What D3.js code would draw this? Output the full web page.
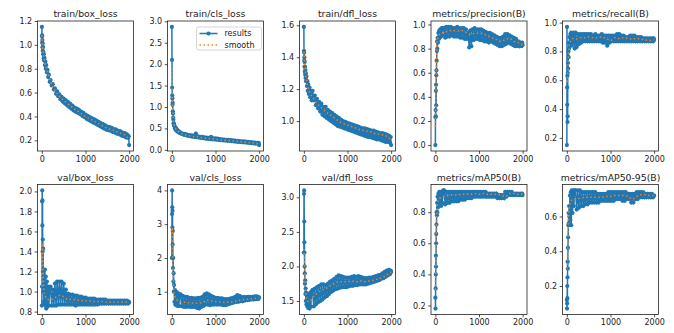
<!DOCTYPE html>
<html>
<head>
<meta charset="utf-8">
<script src="https://cdn.jsdelivr.net/npm/d3@7"></script>
<style>
  body { margin: 0; background: #fff; }
  svg { display: block; font-family: "DejaVu Sans", sans-serif; }
</style>
</head>
<body>
<svg id="chart" width="674" height="333"></svg>
<script>
const epochs = [0, 3, 6, 9, 12, 15, 18, 21, 25, 30, 35, 40, 45, 50, 60, 70, 80, 90, 100, 115, 130, 145, 160, 180,
  200, 225, 250, 275, 300, 325, 350, 375, 400, 425, 450, 475, 500, 525, 550, 575, 600, 625, 650, 675,
  700, 725, 750, 775, 800, 825, 850, 875, 900, 925, 950, 975, 1000, 1025, 1050, 1075, 1100, 1125, 1150, 1175,
  1200, 1225, 1250, 1275, 1300, 1325, 1350, 1375, 1400, 1425, 1450, 1475, 1500, 1525, 1550, 1575, 1600, 1625,
  1650, 1675, 1700, 1725, 1750, 1775, 1800, 1825, 1850, 1875, 1900, 1925, 1950, 1975, 1990, 2000]
// epochs for the smoothed (orange) curve
const smoothEpochs = [0, 10, 20, 30, 40, 50, 70, 100, 150, 200, 300, 400, 500, 600, 700, 800, 900, 1000,
  1100, 1200, 1300, 1400, 1500, 1600, 1700, 1800, 1900, 2000]

const titles = ["train/box_loss", "train/cls_loss", "train/dfl_loss", "metrics/precision(B)", "metrics/recall(B)",
  "val/box_loss", "val/cls_loss", "val/dfl_loss", "metrics/mAP50(B)", "metrics/mAP50-95(B)"]

const trainBox = [1.15, 1.07, 1.08, 1.02, 1.04, 0.98, 1.01, 0.95, 0.98, 0.92, 0.94, 0.89, 0.92, 0.87, 0.89, 0.83, 0.86, 0.80, 0.83, 0.77, 0.79, 0.73, 0.75, 0.69,
  0.705, 0.66, 0.67, 0.625, 0.635, 0.59, 0.61, 0.57, 0.585, 0.545, 0.565, 0.525, 0.55, 0.51, 0.535, 0.495, 0.52, 0.48, 0.505, 0.465,
  0.49, 0.45, 0.475, 0.44, 0.465, 0.43, 0.455, 0.42, 0.44, 0.405, 0.43, 0.395, 0.415, 0.38, 0.405, 0.37, 0.395, 0.36, 0.385, 0.35,
  0.375, 0.34, 0.365, 0.33, 0.355, 0.32, 0.345, 0.31, 0.335, 0.30, 0.325, 0.29, 0.315, 0.285, 0.31, 0.28, 0.305, 0.27,
  0.295, 0.265, 0.29, 0.255, 0.28, 0.25, 0.275, 0.24, 0.265, 0.235, 0.26, 0.225, 0.25, 0.22, 0.235, 0.16]
const trainBoxSmooth = [1.08, 1.03, 0.98, 0.94, 0.91, 0.89, 0.85, 0.81, 0.75, 0.69, 0.62, 0.57, 0.535, 0.505, 0.475, 0.45, 0.425, 0.40,
  0.38, 0.36, 0.34, 0.32, 0.30, 0.29, 0.275, 0.26, 0.245, 0.21]

const trainCls = [2.87, 2.10, 1.45, 1.27, 1.20, 1.05, 1.10, 0.90, 0.85, 0.75, 0.70, 0.62, 0.62, 0.56, 0.56, 0.50, 0.52, 0.46, 0.50, 0.44, 0.46, 0.41, 0.43, 0.39,
  0.40, 0.37, 0.38, 0.35, 0.37, 0.34, 0.355, 0.325, 0.345, 0.315, 0.335, 0.305, 0.33, 0.30, 0.38, 0.295, 0.315, 0.285, 0.305, 0.275,
  0.30, 0.27, 0.29, 0.26, 0.285, 0.255, 0.28, 0.25, 0.30, 0.245, 0.27, 0.24, 0.265, 0.235, 0.26, 0.23, 0.25, 0.225, 0.245, 0.22,
  0.24, 0.215, 0.235, 0.21, 0.23, 0.205, 0.225, 0.20, 0.22, 0.195, 0.215, 0.19, 0.21, 0.185, 0.205, 0.18, 0.20, 0.175,
  0.195, 0.17, 0.19, 0.165, 0.185, 0.16, 0.18, 0.155, 0.175, 0.15, 0.17, 0.145, 0.165, 0.14, 0.16, 0.11]
const trainClsSmooth = [1.9, 1.15, 0.95, 0.75, 0.64, 0.58, 0.52, 0.48, 0.43, 0.39, 0.35, 0.325, 0.31, 0.30, 0.28, 0.265, 0.26, 0.245,
  0.235, 0.225, 0.215, 0.205, 0.195, 0.185, 0.175, 0.165, 0.155, 0.13]

const trainDfl = [1.59, 1.44, 1.43, 1.38, 1.40, 1.34, 1.37, 1.31, 1.34, 1.29, 1.32, 1.27, 1.30, 1.25, 1.28, 1.22, 1.25, 1.19, 1.23, 1.17, 1.21, 1.15, 1.19, 1.13,
  1.19, 1.13, 1.16, 1.10, 1.14, 1.08, 1.12, 1.06, 1.11, 1.04, 1.09, 1.03, 1.09, 1.02, 1.07, 1.01, 1.06, 1.00, 1.05, 0.99,
  1.04, 0.98, 1.03, 0.97, 1.02, 0.965, 1.01, 0.96, 1.00, 0.955, 0.995, 0.95, 0.99, 0.945, 0.985, 0.94, 0.98, 0.935, 0.975, 0.93,
  0.97, 0.925, 0.965, 0.92, 0.96, 0.915, 0.955, 0.91, 0.955, 0.905, 0.95, 0.90, 0.945, 0.90, 0.94, 0.895, 0.94, 0.89,
  0.935, 0.885, 0.93, 0.885, 0.925, 0.88, 0.925, 0.875, 0.92, 0.87, 0.915, 0.87, 0.91, 0.865, 0.90, 0.85]
const trainDflSmooth = [1.46, 1.39, 1.35, 1.32, 1.30, 1.28, 1.245, 1.21, 1.17, 1.15, 1.11, 1.085, 1.06, 1.04, 1.02, 1.00, 0.985, 0.975,
  0.965, 0.955, 0.945, 0.94, 0.935, 0.925, 0.92, 0.915, 0.905, 0.88]

const precision = [0.00, 0.23, 0.29, 0.24, 0.45, 0.50, 0.33, 0.58, 0.62, 0.70, 0.78, 0.86, 0.80, 0.89, 0.85, 0.93, 0.88, 0.95, 0.89, 0.96, 0.90, 0.97, 0.91, 0.97,
  0.97, 0.89, 0.98, 0.90, 0.98, 0.90, 0.98, 0.91, 0.97, 0.90, 0.97, 0.90, 0.98, 0.90, 0.97, 0.89, 0.97, 0.89, 0.97, 0.88,
  0.96, 0.88, 0.93, 0.81, 0.95, 0.82, 0.96, 0.87, 0.97, 0.88, 0.96, 0.88, 0.96, 0.87, 0.96, 0.87, 0.95, 0.86, 0.94, 0.86,
  0.93, 0.85, 0.93, 0.86, 0.92, 0.85, 0.91, 0.84, 0.90, 0.83, 0.89, 0.82, 0.89, 0.82, 0.90, 0.83, 0.92, 0.84,
  0.92, 0.85, 0.91, 0.84, 0.90, 0.83, 0.89, 0.82, 0.88, 0.82, 0.86, 0.82, 0.85, 0.82, 0.85, 0.83]
const precisionSmooth = [0.15, 0.40, 0.62, 0.80, 0.86, 0.88, 0.90, 0.92, 0.93, 0.935, 0.945, 0.95, 0.945, 0.95, 0.935, 0.92, 0.925, 0.93,
  0.92, 0.905, 0.89, 0.875, 0.86, 0.875, 0.885, 0.86, 0.85, 0.83]

const recall = [0.15, 0.97, 0.55, 0.43, 0.63, 0.31, 0.35, 0.65, 0.72, 0.68, 0.80, 0.76, 0.86, 0.82, 0.90, 0.84, 0.92, 0.85, 0.93, 0.84, 0.92, 0.86, 0.93, 0.82,
  0.93, 0.83, 0.92, 0.85, 0.92, 0.86, 0.92, 0.87, 0.92, 0.87, 0.92, 0.87, 0.92, 0.87, 0.92, 0.87, 0.91, 0.87, 0.92, 0.87,
  0.91, 0.87, 0.91, 0.87, 0.92, 0.86, 0.91, 0.86, 0.91, 0.84, 0.91, 0.86, 0.91, 0.87, 0.91, 0.87, 0.91, 0.87, 0.92, 0.87,
  0.92, 0.87, 0.91, 0.87, 0.91, 0.87, 0.90, 0.87, 0.90, 0.87, 0.91, 0.87, 0.91, 0.87, 0.91, 0.87, 0.90, 0.87,
  0.90, 0.87, 0.90, 0.87, 0.89, 0.87, 0.89, 0.87, 0.89, 0.87, 0.89, 0.87, 0.89, 0.87, 0.89, 0.88]
const recallSmooth = [0.60, 0.58, 0.62, 0.72, 0.79, 0.83, 0.86, 0.88, 0.89, 0.885, 0.895, 0.895, 0.90, 0.895, 0.895, 0.90, 0.89, 0.875,
  0.895, 0.89, 0.895, 0.89, 0.885, 0.89, 0.885, 0.88, 0.875, 0.88]

const valBox = [0.86, 1.05, 1.90, 2.01, 1.66, 1.91, 1.40, 1.52, 1.20, 1.43, 1.00, 1.22, 0.90, 1.15, 0.88, 1.22, 0.86, 1.15, 0.83, 1.10, 0.85, 1.05, 0.86, 1.02,
  1.05, 0.86, 1.02, 0.86, 1.08, 0.86, 1.10, 0.87, 1.10, 0.87, 1.10, 0.87, 1.08, 0.87, 1.02, 0.87, 0.98, 0.87, 0.97, 0.87,
  0.97, 0.87, 0.96, 0.86, 0.96, 0.87, 0.95, 0.87, 0.95, 0.87, 0.94, 0.87, 0.94, 0.87, 0.93, 0.87, 0.93, 0.87, 0.93, 0.87,
  0.93, 0.87, 0.92, 0.87, 0.92, 0.88, 0.92, 0.88, 0.92, 0.88, 0.92, 0.88, 0.91, 0.88, 0.91, 0.88, 0.91, 0.88,
  0.91, 0.88, 0.91, 0.88, 0.91, 0.88, 0.91, 0.88, 0.91, 0.88, 0.91, 0.88, 0.91, 0.88, 0.90, 0.89]
const valBoxSmooth = [1.05, 1.48, 1.40, 1.20, 1.08, 1.00, 0.97, 0.93, 0.92, 0.92, 0.94, 0.96, 0.95, 0.92, 0.92, 0.915, 0.91, 0.905,
  0.905, 0.90, 0.90, 0.90, 0.895, 0.895, 0.895, 0.895, 0.895, 0.895]

const valCls = [2.00, 3.30, 4.00, 3.50, 2.90, 3.40, 2.40, 2.80, 1.70, 2.00, 1.30, 1.55, 1.00, 1.20, 0.70, 1.05, 0.62, 1.00, 0.60, 0.98, 0.58, 0.95, 0.58, 0.92,
  0.92, 0.57, 0.88, 0.55, 0.85, 0.55, 0.85, 0.56, 0.82, 0.55, 0.82, 0.55, 0.80, 0.55, 0.80, 0.52, 0.82, 0.50, 0.82, 0.55,
  0.85, 0.58, 0.92, 0.62, 0.95, 0.62, 0.92, 0.60, 0.88, 0.62, 0.85, 0.62, 0.82, 0.62, 0.82, 0.62, 0.80, 0.62, 0.80, 0.60,
  0.78, 0.60, 0.78, 0.62, 0.78, 0.64, 0.80, 0.66, 0.82, 0.68, 0.85, 0.70, 0.90, 0.70, 0.88, 0.72, 0.84, 0.72,
  0.84, 0.74, 0.84, 0.75, 0.85, 0.76, 0.85, 0.77, 0.85, 0.77, 0.86, 0.78, 0.86, 0.78, 0.84, 0.82]
const valClsSmooth = [2.8, 2.9, 2.0, 1.5, 1.1, 0.95, 0.85, 0.78, 0.72, 0.70, 0.69, 0.67, 0.66, 0.66, 0.68, 0.75, 0.73, 0.71,
  0.70, 0.69, 0.69, 0.70, 0.73, 0.76, 0.77, 0.78, 0.80, 0.81]

const valDfl = [2.20, 3.05, 3.10, 2.65, 2.35, 2.20, 2.00, 1.90, 1.75, 1.80, 1.60, 1.68, 1.50, 1.62, 1.45, 1.60, 1.42, 1.58, 1.40, 1.58, 1.39, 1.62, 1.42, 1.64,
  1.66, 1.42, 1.68, 1.45, 1.70, 1.48, 1.72, 1.50, 1.74, 1.52, 1.74, 1.55, 1.73, 1.57, 1.75, 1.60, 1.78, 1.63, 1.80, 1.65,
  1.82, 1.67, 1.85, 1.68, 1.87, 1.69, 1.86, 1.70, 1.85, 1.70, 1.84, 1.70, 1.84, 1.71, 1.84, 1.72, 1.85, 1.72, 1.86, 1.73,
  1.85, 1.73, 1.86, 1.74, 1.85, 1.74, 1.84, 1.74, 1.83, 1.74, 1.83, 1.75, 1.84, 1.76, 1.84, 1.77, 1.85, 1.78,
  1.86, 1.79, 1.87, 1.80, 1.88, 1.82, 1.90, 1.83, 1.92, 1.85, 1.94, 1.87, 1.95, 1.89, 1.94, 1.92]
const valDflSmooth = [2.25, 2.15, 1.95, 1.78, 1.65, 1.58, 1.52, 1.49, 1.50, 1.55, 1.61, 1.65, 1.68, 1.72, 1.75, 1.78, 1.78, 1.78,
  1.79, 1.78, 1.79, 1.78, 1.79, 1.80, 1.82, 1.84, 1.88, 1.92]

const map50 = [0.25, 0.18, 0.31, 0.40, 0.52, 0.45, 0.60, 0.66, 0.72, 0.80, 0.78, 0.86, 0.80, 0.90, 0.83, 0.92, 0.85, 0.93, 0.86, 0.93, 0.84, 0.93, 0.86, 0.94,
  0.94, 0.85, 0.93, 0.86, 0.93, 0.86, 0.93, 0.87, 0.93, 0.87, 0.93, 0.87, 0.93, 0.87, 0.93, 0.88, 0.93, 0.88, 0.93, 0.88,
  0.93, 0.89, 0.93, 0.89, 0.93, 0.89, 0.93, 0.90, 0.93, 0.90, 0.93, 0.90, 0.93, 0.90, 0.93, 0.90, 0.93, 0.90, 0.93, 0.90,
  0.92, 0.90, 0.92, 0.90, 0.92, 0.90, 0.92, 0.90, 0.92, 0.89, 0.91, 0.89, 0.91, 0.89, 0.91, 0.89, 0.93, 0.90,
  0.93, 0.91, 0.93, 0.91, 0.93, 0.91, 0.92, 0.91, 0.92, 0.91, 0.92, 0.91, 0.92, 0.91, 0.92, 0.91]
const map50Smooth = [0.30, 0.45, 0.62, 0.75, 0.82, 0.86, 0.88, 0.89, 0.895, 0.90, 0.905, 0.91, 0.91, 0.915, 0.915, 0.915, 0.92, 0.915,
  0.92, 0.915, 0.915, 0.915, 0.91, 0.90, 0.92, 0.92, 0.915, 0.915]

const map5095 = [0.12, 0.07, 0.10, 0.20, 0.13, 0.25, 0.34, 0.30, 0.42, 0.48, 0.55, 0.62, 0.56, 0.66, 0.60, 0.72, 0.58, 0.74, 0.55, 0.75, 0.62, 0.75, 0.66, 0.75,
  0.75, 0.64, 0.75, 0.65, 0.75, 0.66, 0.74, 0.66, 0.74, 0.67, 0.74, 0.67, 0.74, 0.68, 0.74, 0.68, 0.74, 0.68, 0.74, 0.68,
  0.73, 0.68, 0.73, 0.69, 0.73, 0.69, 0.73, 0.69, 0.73, 0.69, 0.74, 0.69, 0.74, 0.69, 0.74, 0.69, 0.74, 0.70, 0.74, 0.70,
  0.74, 0.70, 0.74, 0.69, 0.74, 0.69, 0.74, 0.70, 0.73, 0.70, 0.73, 0.68, 0.73, 0.68, 0.73, 0.70, 0.74, 0.70,
  0.74, 0.71, 0.74, 0.71, 0.74, 0.71, 0.73, 0.71, 0.73, 0.71, 0.73, 0.71, 0.73, 0.71, 0.72, 0.72]
const map5095Smooth = [0.30, 0.33, 0.42, 0.52, 0.60, 0.64, 0.67, 0.69, 0.70, 0.70, 0.705, 0.71, 0.71, 0.71, 0.71, 0.71, 0.715, 0.715,
  0.72, 0.72, 0.72, 0.715, 0.70, 0.715, 0.725, 0.725, 0.72, 0.72]

const yTicks = [
  [0.2, 0.4, 0.6, 0.8, 1.0, 1.2],
  [0, 0.5, 1.0, 1.5, 2.0, 2.5, 3.0],
  [1.0, 1.2, 1.4, 1.6],
  [0, 0.2, 0.4, 0.6, 0.8, 1.0],
  [0.2, 0.4, 0.6, 0.8, 1.0],
  [0.8, 1.0, 1.2, 1.4, 1.6, 1.8, 2.0],
  [1, 2, 3, 4],
  [1.5, 2.0, 2.5, 3.0],
  [0.2, 0.4, 0.6, 0.8],
  [0.2, 0.4, 0.6]
]
const xTicks = [0, 1000, 2000]
const legendLabels = ["results", "smooth"]

const results = [trainBox, trainCls, trainDfl, precision, recall, valBox, valCls, valDfl, map50, map5095]
const smooths = [trainBoxSmooth, trainClsSmooth, trainDflSmooth, precisionSmooth, recallSmooth,
  valBoxSmooth, valClsSmooth, valDflSmooth, map50Smooth, map5095Smooth]

// layout
const colLeft = [37.5, 167.5, 299.5, 431, 562.5]
const rowTop = [21, 184.5]
const axW = 96, axH = 130
const blue = "#1f77b4", orange = "#ff7f0e", ink = "#222"

const svg = d3.select("#chart")

const pad = ([a, b]) => [a - (b - a) * 0.05, b + (b - a) * 0.05]

results.forEach((vals, i) => {
  const row = Math.floor(i / 5), col = i % 5
  const g = svg.append("g").attr("transform", `translate(${colLeft[col]},${rowTop[row]})`)

  const x = d3.scaleLinear().domain(pad(d3.extent(epochs))).range([0, axW])
  const y = d3.scaleLinear().domain(pad(d3.extent(vals))).range([axH, 0])

  g.append("clipPath").attr("id", `clip${i}`)
    .append("rect").attr("width", axW).attr("height", axH)

  const plot = g.append("g").attr("clip-path", `url(#clip${i})`)
  const pts = epochs.map((e, k) => [e, vals[k]]).filter(d => d[1] != null)

  plot.append("path")
    .attr("d", d3.line().x(d => x(d[0])).y(d => y(d[1]))(pts))
    .attr("fill", "none").attr("stroke", blue).attr("stroke-width", 1.5)

  plot.selectAll("circle").data(pts).join("circle")
    .attr("cx", d => x(d[0])).attr("cy", d => y(d[1]))
    .attr("r", 2.1).attr("fill", blue)

  const sm = smoothEpochs.map((e, k) => [e, smooths[i][k]])
  plot.append("path")
    .attr("d", d3.line().curve(d3.curveMonotoneX).x(d => x(d[0])).y(d => y(d[1]))(sm))
    .attr("fill", "none").attr("stroke", orange).attr("stroke-width", 1.5)
    .attr("stroke-dasharray", "1.5,2.5")

  const fmt = i === 6 ? d3.format("d") : d3.format(".1f")
  const yAxis = g.append("g")
    .call(d3.axisLeft(y).tickValues(yTicks[i]).tickFormat(fmt).tickSize(2.8).tickPadding(2.6))
  const xAxis = g.append("g").attr("transform", `translate(0,${axH})`)
    .call(d3.axisBottom(x).tickValues(xTicks).tickFormat(d3.format("d")).tickSize(2.8).tickPadding(2.4))

  ;[yAxis, xAxis].forEach(a => {
    a.select(".domain").remove()
    a.attr("font-family", null).attr("font-size", 8)
    a.selectAll("line").attr("stroke", ink).attr("stroke-width", 0.8)
    a.selectAll("text").attr("fill", ink)
  })

  g.append("rect").attr("width", axW).attr("height", axH)
    .attr("fill", "none").attr("stroke", ink).attr("stroke-width", 0.8)

  g.append("text").attr("x", axW / 2).attr("y", -4)
    .attr("text-anchor", "middle").attr("font-size", 9.3).attr("fill", ink)
    .text(titles[i])

  if (i === 1) {
    const lg = g.append("g").attr("transform", "translate(29,6)")
    lg.append("rect").attr("width", 65).attr("height", 23).attr("rx", 2)
      .attr("fill", "#fff").attr("fill-opacity", 0.8).attr("stroke", "#ccc").attr("stroke-width", 0.8)
    legendLabels.forEach((lab, k) => {
      const yy = 6.5 + k * 11.5
      const ln = lg.append("line").attr("x1", 3).attr("x2", 21).attr("y1", yy).attr("y2", yy)
        .attr("stroke-width", 1.5)
      if (k === 0) {
        ln.attr("stroke", blue)
        lg.append("circle").attr("cx", 12).attr("cy", yy).attr("r", 2.1).attr("fill", blue)
      } else {
        ln.attr("stroke", orange).attr("stroke-dasharray", "1.5,2.5")
      }
      lg.append("text").attr("x", 28).attr("y", yy).attr("dy", "0.35em")
        .attr("font-size", 8).attr("fill", ink).text(lab)
    })
  }
})
</script>
</body>
</html>
